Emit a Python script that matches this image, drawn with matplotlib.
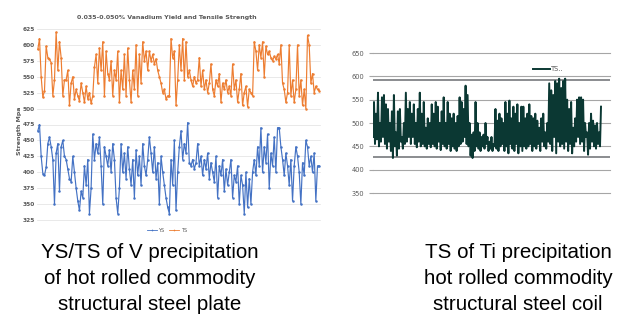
import matplotlib
matplotlib.use("Agg")
import matplotlib.pyplot as plt
from matplotlib import font_manager as fm
from matplotlib.lines import Line2D

# ---------------- data ----------------
ts_v = [593, 610, 550, 518, 528, 598, 580, 578, 572, 520, 545, 620, 560, 605, 580, 520, 545,
        545, 560, 505, 540, 550, 515, 530, 520, 512, 540, 525, 510, 535, 515, 525, 508,
        520, 565, 585, 540, 595, 560, 605, 520, 590, 555, 545, 575, 520, 560, 545, 590,
        510, 560, 530, 585, 520, 595, 545, 510, 560, 530, 600, 520, 585, 540, 605, 575,
        590, 560, 590, 575, 585, 570, 578, 560, 550, 540, 525, 530, 515, 520, 520, 610,
        580, 590, 505, 545, 600, 560, 610, 545, 605, 550, 560, 545, 535, 550, 540, 545,
        580, 535, 560, 530, 545, 525, 540, 570, 530, 520, 545, 535, 555, 510, 540, 530,
        545, 525, 535, 520, 570, 530, 545, 510, 530, 555, 505, 525, 535, 503, 530, 525,
        520, 605, 590, 560, 600, 580, 605, 550, 598, 585, 590, 580, 575, 582, 578, 585,
        570, 600, 540, 530, 510, 525, 600, 520, 545, 510, 530, 600, 520, 545, 505, 530,
        500, 615, 600, 540, 555, 525, 535, 530, 528]

ys_v = [465, 475, 425, 398, 395, 408, 445, 455, 440, 420, 350, 430, 445, 370, 440, 450, 425,
        420, 405, 390, 385, 425, 400, 375, 355, 340, 370, 360, 410, 380, 420, 335, 375,
        460, 420, 445, 430, 455, 410, 350, 440, 425, 410, 435, 400, 445, 420, 360, 335,
        375, 445, 400, 430, 390, 440, 405, 380, 420, 360, 435, 395, 425, 380, 445, 410,
        395, 420, 455, 430, 400, 440, 390, 415, 350, 425, 400, 380, 360, 345, 335, 420,
        380, 450, 340, 400, 440, 465, 420, 445, 430, 478, 415, 410, 420, 405, 415, 445,
        410, 425, 395, 420, 405, 430, 390, 415, 400, 385, 425, 360, 410, 395, 420, 370,
        405, 380, 400, 420, 360, 395, 385, 410, 350, 395, 380, 335, 400, 345, 390, 350,
        400, 420, 395, 440, 410, 470, 400, 440, 415, 460, 375, 430, 410, 455, 400, 470,
        470, 440, 420, 395, 430, 410, 380, 420, 355, 410, 440, 425, 400, 350, 415, 395,
        450, 440, 410, 425, 400, 430, 355, 410, 410]

ts_ti = [470, 545, 455, 520, 465, 565, 450, 500, 460, 555,
         470, 560, 455, 540, 445, 530, 460, 500, 440, 525,
         425, 560, 450, 480, 430, 525, 445, 530, 460, 470,
         445, 500, 455, 565, 460, 530, 470, 545, 455, 520,
         470, 540, 455, 500, 448, 530, 460, 565, 450, 520,
         455, 545, 450, 490, 445, 510, 455, 500, 448, 540,
         455, 520, 450, 545, 445, 535, 460, 500, 442, 525,
         455, 555, 450, 500, 445, 545, 455, 520, 440, 510,
         450, 520, 445, 500, 440, 515, 450, 555, 455, 545,
         460, 530, 470, 580, 455, 560, 450, 500, 430, 475,
         425, 480, 440, 545, 450, 500, 445, 480, 440, 470,
         450, 475, 445, 500, 455, 470, 440, 460, 445, 470,
         440, 455, 450, 530, 445, 505, 440, 520, 450, 510,
         455, 500, 440, 545, 450, 520, 435, 548, 455, 510,
         445, 535, 440, 520, 455, 540, 435, 500, 450, 535,
         440, 535, 450, 510, 445, 520, 450, 540, 455, 515,
         440, 510, 450, 520, 445, 505, 455, 490, 440, 510,
         460, 520, 450, 480, 445, 500, 460, 585, 455, 570,
         440, 560, 470, 590, 435, 585, 460, 595, 450, 575,
         455, 590, 445, 595, 460, 550, 440, 530, 455, 545,
         435, 490, 450, 510, 460, 550, 470, 555, 455, 555,
         460, 550, 440, 500, 470, 480, 432, 500, 445, 520,
         460, 505, 450, 495, 445, 500, 455, 480, 450, 535]

left_ticks = [325, 350, 375, 400, 425, 450, 475, 500, 525, 550, 575, 600, 625]
right_ticks = [350, 400, 450, 500, 550, 600, 650]
limit_lines = [593, 428]

left_title = "0.035-0.050% Vanadium Yield and Tensile Strength"
left_caption = ["YS/TS of V precipitation", "of hot rolled commodity", "structural steel plate"]
right_caption = ["TS of Ti precipitation", "hot rolled commodity", "structural steel coil"]

# ---------------- figure ----------------
W, H = 617, 327
fig = plt.figure(figsize=(W / 100, H / 100), dpi=100)
fig.patch.set_facecolor("white")

def fx(px):
    return px / W

def fy(py):
    return 1 - py / H

# left chart
axl = fig.add_axes([fx(37), fy(220), fx(283), (220 - 29) / H])
x = list(range(len(ts_v)))
axl.plot(x, ts_v, color="#ED7D31", lw=0.85, marker="o", ms=1.8, mew=0, clip_on=False)
axl.plot(x, ys_v, color="#4472C4", lw=0.85, marker="o", ms=1.8, mew=0, clip_on=False)
axl.set_ylim(325, 625)
axl.set_xlim(-0.5, len(ts_v) - 0.5)
axl.set_yticks(left_ticks)
axl.set_xticks([])
for v in left_ticks:
    axl.axhline(v, color="#e0e0e0", lw=0.5, zorder=0, clip_on=False)
for s in axl.spines.values():
    s.set_visible(False)
axl.tick_params(axis="y", length=0, pad=1.5, labelsize=4.2, labelcolor="#595959")
for t in axl.get_yticklabels():
    t.set_fontweight("bold")
fig.text(fx(167), fy(18), left_title, ha="center", va="center", fontsize=4.5,
         fontweight="bold", color="#595959")
fig.text(fx(20), fy(131), "Strength Mpa", rotation=90, ha="center", va="center",
         fontsize=4.5, fontweight="bold", color="#595959")
handles = [Line2D([], [], color="#4472C4", lw=0.6, marker="o", ms=1.2, mew=0),
           Line2D([], [], color="#ED7D31", lw=0.6, marker="o", ms=1.2, mew=0)]
fig.legend(handles, ["YS", "TS"], loc="center", bbox_to_anchor=(fx(167), fy(230)),
           ncol=2, frameon=False, fontsize=3.5, handlelength=2, columnspacing=1.0,
           handletextpad=0.3, labelcolor="#595959")

# right chart
axr = fig.add_axes([fx(373), fy(193), fx(237), (193 - 53) / H])
xr = list(range(len(ts_ti)))
axr.set_ylim(350, 650)
axr.set_xlim(0, len(ts_ti) * 237 / 229)
axr.set_yticks(right_ticks)
axr.set_xticks([])
for v in right_ticks:
    axr.axhline(v, color="#a6a6a6", lw=0.8, zorder=0, clip_on=False)
for s in axr.spines.values():
    s.set_visible(False)
axr.tick_params(axis="y", length=3, width=0.8, color="#a6a6a6", pad=3,
                labelsize=4.8, labelcolor="#595959")
for v in limit_lines:
    axr.axhline(v, color="#6b6e72", lw=1.1, zorder=1)
axr.plot(xr, ts_ti, color="#0b3833", lw=1.4, zorder=3, label="TS..")
axr.legend(loc="upper right", bbox_to_anchor=(0.83, 0.95), frameon=False, fontsize=4.8,
           handlelength=2.6, handletextpad=0.2, labelcolor="#595959")

# captions
names = {f.name for f in fm.fontManager.ttflist}
if "Liberation Sans Narrow" in names:
    cap_font, cap_size = "Liberation Sans Narrow", 17.5
else:
    cap_font, cap_size = "Liberation Sans", 14.8
baselines = [258, 284, 310]
for line, b in zip(left_caption, baselines):
    fig.text(fx(150), fy(b), line, ha="center", va="baseline", fontsize=cap_size,
             family=[cap_font, "DejaVu Sans"], color="black")
for line, b in zip(right_caption, baselines):
    fig.text(fx(518), fy(b), line, ha="center", va="baseline", fontsize=cap_size,
             family=[cap_font, "DejaVu Sans"], color="black")

fig.savefig("out.png", dpi=100)
